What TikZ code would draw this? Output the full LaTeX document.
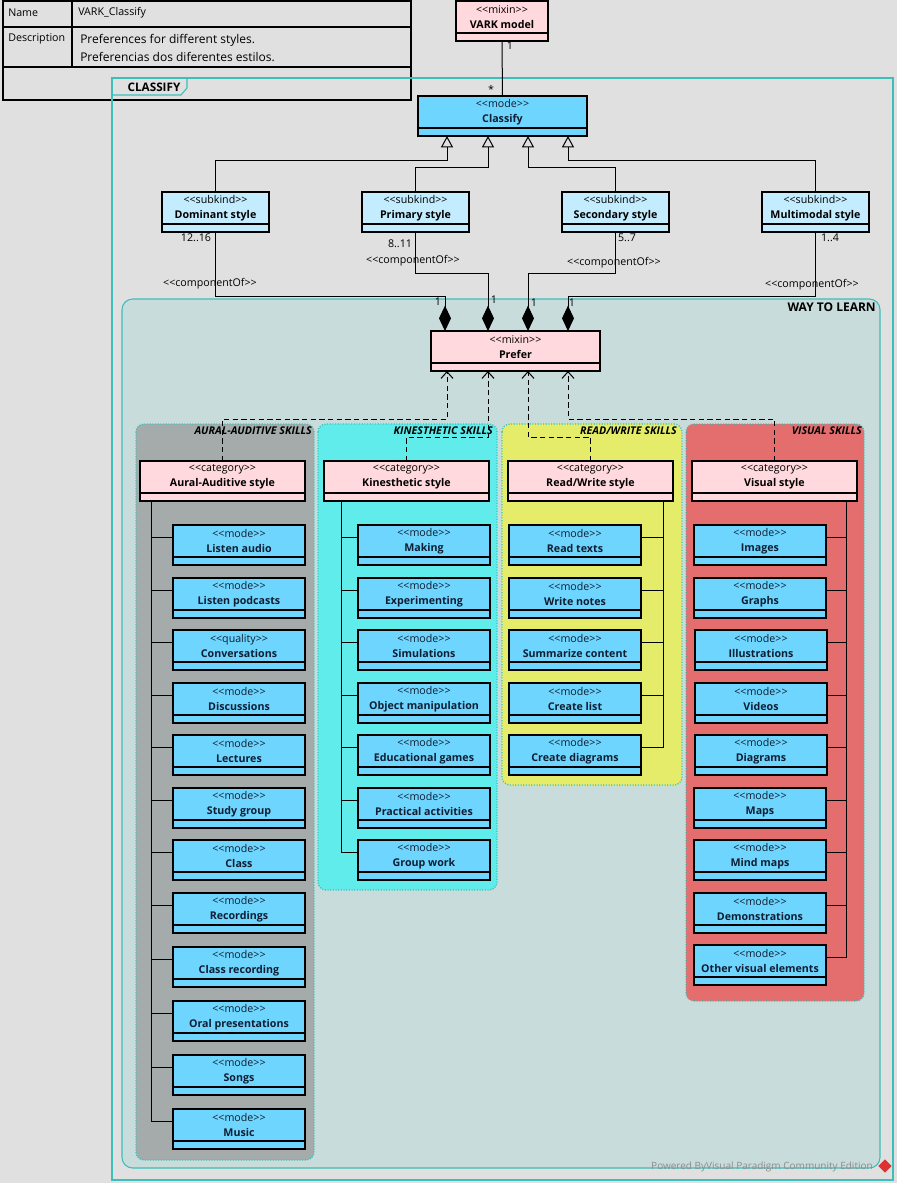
\documentclass[tikz,border=0pt]{standalone}
\usepackage{fontspec}
\setmainfont{Open Sans}
\usetikzlibrary{positioning,arrows.meta,shapes.geometric}

\definecolor{bgGray}{RGB}{224,224,224}
\definecolor{wayFill}{RGB}{200,220,220}
\definecolor{pkgLine}{RGB}{60,190,185}
\definecolor{auralFill}{RGB}{165,170,170}
\definecolor{kinFill}{RGB}{95,236,234}
\definecolor{rwFill}{RGB}{228,236,105}
\definecolor{visFill}{RGB}{228,110,110}
\definecolor{pinkBox}{RGB}{255,217,221}
\definecolor{modeBlue}{RGB}{110,213,254}
\definecolor{subBlue}{RGB}{196,236,255}
\definecolor{modeText}{RGB}{15,30,50}
\definecolor{vpGray}{RGB}{140,140,140}
\definecolor{vpRed}{RGB}{220,50,50}

\newcommand{\st}[1]{<{}<#1>{}>}
% class box: name, x, y, width, style, stereotype, title
\newcommand{\umlclass}[7]{%
  \node[umlbox,#5,minimum width=#4] (#1) at (#2,#3) {\st{#6}\\\textbf{#7}};
  \node[umlcomp,#5,minimum width=#4,below=0pt of #1] (#1-c) {};}

\begin{document}
\begin{tikzpicture}[x=0.75pt,y=0.75pt,yscale=-1,xscale=1,
  umlbox/.style={draw,line width=0.9pt,inner sep=0pt,outer sep=0pt,anchor=north west,minimum height=24pt,align=center,font=\fontsize{8}{11.25}\selectfont},
  umlcomp/.style={draw,line width=0.9pt,inner sep=0pt,outer sep=0pt,minimum height=6pt},
  modebox/.style={fill=modeBlue,text=modeText},
  catbox/.style={fill=pinkBox},
  subbox/.style={fill=subBlue},
  skillpkg/.style={draw=pkgLine,rounded corners=6pt,line width=1pt,dash pattern=on 0.8pt off 1.2pt},
  pkgtitle/.style={anchor=east,inner sep=0pt,font=\fontsize{8}{9}\selectfont\bfseries\itshape},
  gen/.style={line width=0.75pt,-{Triangle[open,length=8.5pt,width=9pt]}},
  compo/.style={line width=0.75pt,{Diamond[length=19pt,width=9pt]}-},
  dep/.style={line width=0.75pt,dash pattern=on 4pt off 2.5pt,-{Straight Barb[length=5pt,width=9pt]}},
  tree/.style={line width=0.75pt},
  lbl/.style={inner sep=0pt,font=\fontsize{8}{9}\selectfont},
]
\fill[bgGray] (0,0) rectangle (897,1183);
\useasboundingbox (0,0) rectangle (897,1183);

%Table: name and description
\draw[line width=0.9pt] (3,1) rectangle (411,100);
\draw[line width=0.9pt] (3,27) -- (411,27) (3,67) -- (411,67) (72,1) -- (72,67);
\node[lbl,anchor=west] (tname) at (8,13) {Name};
\node[lbl,anchor=west] (tvalue) at (78,13) {VARK\_Classify};
\node[lbl,anchor=west] (tdesc) at (8,39) {Description};
\node[lbl,anchor=west,font=\fontsize{9}{10}\selectfont] (tdesca) at (80,40) {Preferences for different styles.};
\node[lbl,anchor=west,font=\fontsize{9}{10}\selectfont] (tdescb) at (80,57) {Preferencias dos diferentes estilos.};

%Package: CLASSIFY
\draw[pkgLine,line width=0.8pt] (112,78) rectangle (893,1180);
\draw[pkgLine,line width=0.8pt] (112,95) -- (181,95) -- (187,88) -- (187,78);
\node[lbl,font=\fontsize{8.8}{9}\selectfont\bfseries] (classifytab) at (154,87) {CLASSIFY};

%Package: WAY TO LEARN
\draw[pkgLine,fill=wayFill,line width=0.8pt,rounded corners=8pt] (122,299) rectangle (880,1168);
\node[lbl,anchor=east,font=\fontsize{9}{10}\selectfont\bfseries] (waytitle) at (876,307) {WAY TO LEARN};

%Skill packages
\draw[skillpkg,fill=auralFill] (136,424) rectangle (314,1160);
\draw[skillpkg,fill=kinFill] (318,424) rectangle (497,890);
\draw[skillpkg,fill=rwFill] (502,424) rectangle (682,785);
\draw[skillpkg,fill=visFill] (686,424) rectangle (864,1001);
\node[pkgtitle] (auraltitle) at (312,431) {AURAL-AUDITIVE SKILLS};
\node[pkgtitle] (kintitle) at (493,431) {KINESTHETIC SKILLS};
\node[pkgtitle] (rwtitle) at (677,431) {READ/WRITE SKILLS};
\node[pkgtitle] (vistitle) at (862,431) {VISUAL SKILLS};

%Top classes
\umlclass{vark}{456}{1}{69pt}{catbox}{mixin}{VARK model}
\umlclass{cls}{418}{96}{126.75pt}{modebox}{mode}{Classify}
\umlclass{dom}{162}{192}{80.25pt}{subbox}{subkind}{Dominant style}
\umlclass{pri}{362}{192}{80.25pt}{subbox}{subkind}{Primary style}
\umlclass{sec}{562}{192}{80.25pt}{subbox}{subkind}{Secondary style}
\umlclass{mul}{762}{192}{80.25pt}{subbox}{subkind}{Multimodal style}
\umlclass{pre}{431}{331}{126.75pt}{catbox}{mixin}{Prefer}

%Categories
\umlclass{aur}{140}{461}{123.75pt}{catbox}{category}{Aural-Auditive style}
\umlclass{kin}{324}{461}{123.75pt}{catbox}{category}{Kinesthetic style}
\umlclass{rw}{508}{461}{123.75pt}{catbox}{category}{Read/Write style}
\umlclass{vis}{692}{461}{123.75pt}{catbox}{category}{Visual style}

%Aural-auditive modes
\umlclass{la}{173}{525}{99pt}{modebox}{mode}{Listen audio}
\umlclass{lp}{173}{578}{99pt}{modebox}{mode}{Listen podcasts}
\umlclass{cv}{173}{630}{99pt}{modebox}{quality}{Conversations}
\umlclass{di}{173}{683}{99pt}{modebox}{mode}{Discussions}
\umlclass{le}{173}{735}{99pt}{modebox}{mode}{Lectures}
\umlclass{sg}{173}{788}{99pt}{modebox}{mode}{Study group}
\umlclass{cl}{173}{840}{99pt}{modebox}{mode}{Class}
\umlclass{rc}{173}{893}{99pt}{modebox}{mode}{Recordings}
\umlclass{cr}{173}{947}{99pt}{modebox}{mode}{Class recording}
\umlclass{op}{173}{1001}{99pt}{modebox}{mode}{Oral presentations}
\umlclass{so}{173}{1055}{99pt}{modebox}{mode}{Songs}
\umlclass{mu}{173}{1109}{99pt}{modebox}{mode}{Music}

%Kinesthetic modes
\umlclass{mk}{358}{525}{99pt}{modebox}{mode}{Making}
\umlclass{ex}{358}{578}{99pt}{modebox}{mode}{Experimenting}
\umlclass{si}{358}{630}{99pt}{modebox}{mode}{Simulations}
\umlclass{om}{358}{683}{99pt}{modebox}{mode}{Object manipulation}
\umlclass{eg}{358}{735}{99pt}{modebox}{mode}{Educational games}
\umlclass{pa}{358}{788}{99pt}{modebox}{mode}{Practical activities}
\umlclass{gw}{358}{840}{99pt}{modebox}{mode}{Group work}

%Read/write modes
\umlclass{rt}{509}{525}{99pt}{modebox}{mode}{Read texts}
\umlclass{wn}{509}{578}{99pt}{modebox}{mode}{Write notes}
\umlclass{sc}{509}{630}{99pt}{modebox}{mode}{Summarize content}
\umlclass{cli}{509}{683}{99pt}{modebox}{mode}{Create list}
\umlclass{cd}{509}{735}{99pt}{modebox}{mode}{Create diagrams}

%Visual modes
\umlclass{im}{694}{525}{99pt}{modebox}{mode}{Images}
\umlclass{gr}{694}{578}{99pt}{modebox}{mode}{Graphs}
\umlclass{il}{695}{630}{99pt}{modebox}{mode}{Illustrations}
\umlclass{vi}{695}{683}{99pt}{modebox}{mode}{Videos}
\umlclass{dg}{695}{735}{99pt}{modebox}{mode}{Diagrams}
\umlclass{mp}{694}{788}{99pt}{modebox}{mode}{Maps}
\umlclass{mm}{694}{840}{99pt}{modebox}{mode}{Mind maps}
\umlclass{dm}{694}{893}{99pt}{modebox}{mode}{Demonstrations}
\umlclass{ov}{694}{945}{99pt}{modebox}{mode}{Other visual elements}

%Association VARK model - Classify
\draw[line width=0.75pt] (vark-c.south) -- (cls.north);
\node[lbl] (mvark) at (510,46) {1};
\node[lbl] (mcls) at (491,89) {*};

%Generalizations
\draw[gen] (dom.north) -- ++(0,-32) -| ([xshift=21.75pt]cls-c.south west);
\draw[gen] (pri.north) -- ++(0,-25) -| ([xshift=52.5pt]cls-c.south west);
\draw[gen] (sec.north) -- ++(0,-25) -| ([xshift=82.5pt]cls-c.south west);
\draw[gen] (mul.north) -- ++(0,-32) -| ([xshift=112.5pt]cls-c.south west);

%Compositions
\draw[compo] ([xshift=10.5pt]pre.north west) -- ++(0,-35) -| (dom-c.south);
\draw[compo] ([xshift=42.75pt]pre.north west) -- ++(0,-58) -| (pri-c.south);
\draw[compo] ([xshift=72.75pt]pre.north west) -- ++(0,-58) -| (sec-c.south);
\draw[compo] ([xshift=102.75pt]pre.north west) -- ++(0,-35) -| (mul-c.south);
\node[lbl] (mdom) at (196,238) {12..16};
\node[lbl] (mpri) at (400,244) {8..11};
\node[lbl] (msec) at (627,238) {5..7};
\node[lbl] (mmul) at (830,238) {1..4};
\node[lbl] (cdom) at (210,284) {\st{componentOf}};
\node[lbl] (cpri) at (413,261) {\st{componentOf}};
\node[lbl] (csec) at (614,263) {\st{componentOf}};
\node[lbl] (cmul) at (812,285) {\st{componentOf}};
\node[lbl] (pdom) at (438,302) {1};
\node[lbl] (ppri) at (494,300) {1};
\node[lbl] (psec) at (534,303) {1};
\node[lbl] (pmul) at (572,303) {1};

%Dependencies to Prefer
\draw[dep] (aur.north) -- ++(0,-42) -| ([xshift=12pt]pre-c.south west);
\draw[dep] (kin.north) -- ++(0,-24) -| ([xshift=42.75pt]pre-c.south west);
\draw[dep] (rw.north) -- ++(0,-24) -| ([xshift=72.75pt]pre-c.south west);
\draw[dep] (vis.north) -- ++(0,-42) -| ([xshift=102.75pt]pre-c.south west);

%Trees
\foreach \m in {la,lp,cv,di,le,sg,cl,rc,cr,op,so,mu}
  \draw[tree] ([xshift=8.25pt]aur-c.south west) |- ([yshift=-3pt]\m.west);
\foreach \m in {mk,ex,si,om,eg,pa,gw}
  \draw[tree] ([xshift=12.75pt]kin-c.south west) |- ([yshift=-3pt]\m.west);
\foreach \m in {rt,wn,sc,cli,cd}
  \draw[tree] ([xshift=-7.5pt]rw-c.south east) |- ([yshift=-3pt]\m.east);
\foreach \m in {im,gr,il,vi,dg,mp,mm,dm,ov}
  \draw[tree] ([xshift=-8.25pt]vis-c.south east) |- ([yshift=-3pt]\m.east);

% Text Node
\node[lbl,anchor=east,text=vpGray,font=\fontsize{7.5}{8}\selectfont] (powered) at (873,1167) {Powered ByVisual Paradigm Community Edition};
\node[diamond,fill=vpRed,inner sep=0pt,minimum size=10pt] (logo) at (885,1166) {};
\end{tikzpicture}
\end{document}
